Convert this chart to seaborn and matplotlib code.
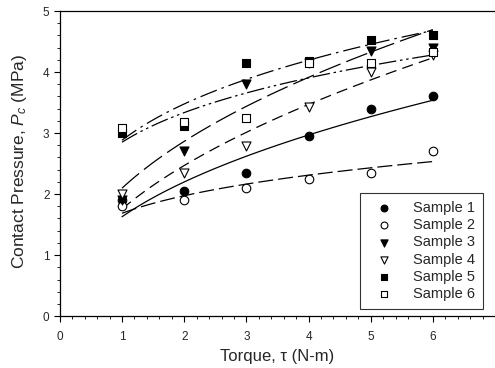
import numpy as np
import pandas as pd
import seaborn as sns
import matplotlib.pyplot as plt

# values
torque = [1, 2, 3, 4, 5, 6]
sample1 = [1.90, 2.05, 2.35, 2.95, 3.40, 3.60]
sample2 = [1.80, 1.90, 2.10, 2.25, 2.35, 2.70]
sample3 = [1.90, 2.70, 3.80, 4.15, 4.35, 4.40]
sample4 = [2.00, 2.35, 2.78, 3.43, 4.00, 4.28]
sample5 = [3.00, 3.12, 4.15, 4.18, 4.52, 4.60]
sample6 = [3.08, 3.18, 3.25, 4.15, 4.15, 4.33]
labels = ['Sample 1', 'Sample 2', 'Sample 3', 'Sample 4', 'Sample 5', 'Sample 6']

sns.set_style('ticks')
plt.rcParams['font.family'] = ['Liberation Sans', 'DejaVu Sans']
plt.rcParams['mathtext.fontset'] = 'custom'
plt.rcParams['mathtext.it'] = 'Liberation Sans:italic'
plt.rcParams['mathtext.rm'] = 'Liberation Sans'

series = [sample1, sample2, sample3, sample4, sample5, sample6]
markers = ['o', 'o', 'v', 'v', 's', 's']
faces = ['black', 'white', 'black', 'white', 'black', 'white']
dashes = [(None, None), (12, 4), (18, 5), (9, 5), (14, 4, 2, 4), (14, 3, 2, 3, 2, 3)]


def power_fit(x, y):
    # least squares fit of y = a * x**b (grid over b, a in closed form)
    x = np.asarray(x, float)
    y = np.asarray(y, float)
    best = None
    for b in np.linspace(0.0, 1.5, 3001):
        xb = x ** b
        a = (y * xb).sum() / (xb * xb).sum()
        err = ((y - a * xb) ** 2).sum()
        if best is None or err < best[0]:
            best = (err, a, b)
    return best[1], best[2]


fig = plt.figure(figsize=(4.95, 3.68), dpi=100)
ax = fig.add_axes([0.121, 0.141, 0.879, 0.829])

xs = np.linspace(1, 6, 100)
for vals, m, fc, d, lab in zip(series, markers, faces, dashes, labels):
    a, b = power_fit(torque, vals)
    line, = ax.plot(xs, a * xs ** b, color='black', lw=0.9)
    if d[0] is not None:
        line.set_dashes(d)
    sns.scatterplot(x=torque, y=vals, marker=m, s=38 if m != 'v' else 42,
                    color='black', facecolor=fc, edgecolor='black',
                    linewidth=0.8, label=lab, ax=ax, zorder=3)

ax.set_xlim(0, 7)
ax.set_ylim(0, 5)
ax.set_xticks(range(0, 7))
ax.set_yticks(range(0, 6))
ax.set_xticks(np.arange(0, 7.01, 0.2), minor=True)
ax.set_yticks(np.arange(0, 5.01, 0.2), minor=True)
ax.tick_params(which='major', length=4, width=0.8, labelsize=8.5, color='black')
ax.tick_params(axis='x', which='major', pad=7)
ax.tick_params(which='minor', length=2, width=0.6, color='black')
ax.spines['right'].set_visible(False)
for s in ['left', 'bottom', 'top']:
    ax.spines[s].set_color('black')
    ax.spines[s].set_linewidth(0.9)

ax.set_xlabel('Torque, τ (N-m)', fontsize=12, labelpad=4)
ax.set_ylabel('Contact Pressure, $P_c$ (MPa)', fontsize=12.5)
ax.yaxis.set_label_coords(-0.071, 0.508)

leg = ax.legend(loc='lower right', bbox_to_anchor=(0.972, 0.023), borderaxespad=0,
                fontsize=10.5, frameon=True, fancybox=False, edgecolor='black',
                handletextpad=0.9, handlelength=2.2, labelspacing=0.22,
                borderpad=0.55, markerscale=0.8)
leg.get_frame().set_linewidth(0.8)

fig.savefig('out.png', dpi=100)
